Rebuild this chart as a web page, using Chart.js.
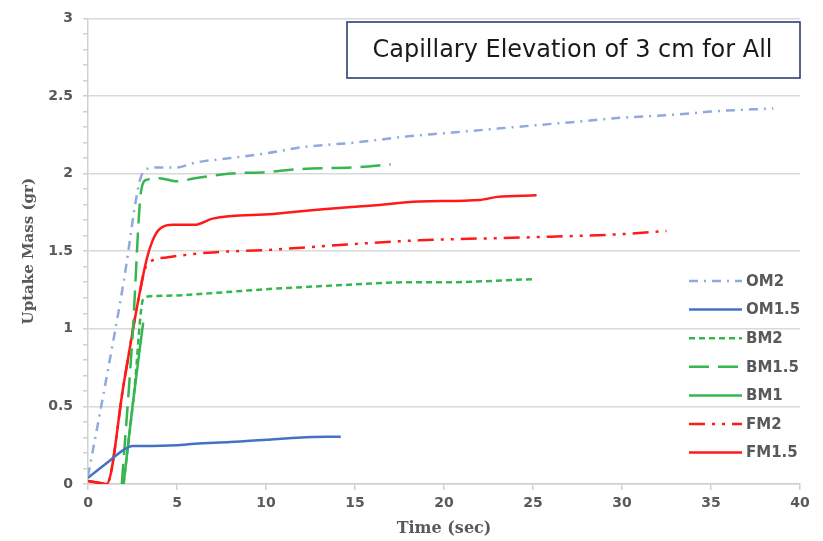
<!DOCTYPE html>
<html>
<head>
<meta charset="utf-8">
<script src="https://cdn.jsdelivr.net/npm/chart.js@4.4.1/dist/chart.umd.min.js"></script>
<style>
  html, body { margin: 0; padding: 0; background: #ffffff; }
  #c { display: block; }
</style>
</head>
<body>
<canvas id="c" width="823" height="541"></canvas>
<script>
// ---- data ----
const seriesNames = ['OM2', 'OM1.5', 'BM2', 'BM1.5', 'BM1', 'FM2', 'FM1.5'];

const om2Time  = [0, 1, 2, 2.9, 3.3, 4, 5, 6, 8, 10, 12, 15, 18, 20, 23, 25, 28, 30, 33, 35, 38.5];
const om2Mass  = [0.05, 0.66, 1.3, 1.95, 2.03, 2.04, 2.04, 2.07, 2.1, 2.13, 2.17, 2.2, 2.24, 2.26, 2.29, 2.31, 2.34, 2.36, 2.38, 2.40, 2.42];

const om15Time = [0, 1, 2, 2.5, 3, 5, 6, 8, 10, 12, 14.2];
const om15Mass = [0.04, 0.13, 0.22, 0.245, 0.245, 0.25, 0.26, 0.27, 0.285, 0.30, 0.305];

const bm2Time  = [2.0, 2.6, 3.1, 3.5, 5, 7, 10, 14, 18, 20, 25];
const bm2Mass  = [0, 0.6, 1.19, 1.21, 1.215, 1.23, 1.255, 1.28, 1.30, 1.30, 1.32];

const bm15Time = [1.9, 2.5, 3.0, 3.3, 4, 5, 6, 8, 10, 12, 15, 17];
const bm15Mass = [0, 0.95, 1.9, 1.96, 1.97, 1.95, 1.97, 2.0, 2.01, 2.03, 2.04, 2.06];

const bm1Time  = [2.0, 2.5, 3.1];
const bm1Mass  = [0, 0.5, 1.04];

const fm2Time  = [0, 0.5, 1.05, 2, 2.8, 3.3, 4.4, 6.7, 10.4, 14.1, 18.6, 25, 30, 32.5];
const fm2Mass  = [0.02, 0.01, 0.0, 0.64, 1.17, 1.41, 1.46, 1.49, 1.51, 1.54, 1.57, 1.59, 1.61, 1.63];

const fm15Time = [0, 0.5, 1.05, 2, 2.8, 3.3, 3.6, 4.0, 4.8, 6, 7, 10.4, 13.2, 16, 18.6, 22, 23, 25.2];
const fm15Mass = [0.02, 0.01, 0.0, 0.64, 1.17, 1.45, 1.56, 1.64, 1.67, 1.67, 1.71, 1.74, 1.77, 1.795, 1.82, 1.83, 1.85, 1.86];

const xTicks = [0, 5, 10, 15, 20, 25, 30, 35, 40];
const yTicks = [0, 0.5, 1, 1.5, 2, 2.5, 3];

const chartTitle = 'Capillary Elevation of 3 cm for All';
const xTitle = 'Time (sec)';
const yTitle = 'Uptake Mass (gr)';

// ---- build ----
function pts(t, m) { return t.map((v, i) => ({ x: v, y: m[i] })); }
const BLUE_L = '#8FAADC', BLUE = '#4472C4', GREEN = '#35B64F', RED = '#FF1A1A';

const seriesData = [
  pts(om2Time, om2Mass), pts(om15Time, om15Mass),
  pts(bm2Time, bm2Mass), pts(bm15Time, bm15Mass), pts(bm1Time, bm1Mass),
  pts(fm2Time, fm2Mass), pts(fm15Time, fm15Mass)
];
const styles = [
  { c: BLUE_L, d: [9, 6, 2, 6] },
  { c: BLUE,   d: [] },
  { c: GREEN,  d: [6, 4] },
  { c: GREEN,  d: [20, 9] },
  { c: GREEN,  d: [] },
  { c: RED,    d: [16, 7, 3, 7, 3, 7] },
  { c: RED,    d: [] }
];

const datasets = seriesNames.map((n, i) => ({
  label: n,
  data: seriesData[i],
  borderColor: styles[i].c,
  backgroundColor: styles[i].c,
  borderDash: styles[i].d,
  borderWidth: 2.5,
  pointRadius: 0,
  fill: false,
  cubicInterpolationMode: 'monotone'
}));

const isMajor = v => Math.abs(v * 2 - Math.round(v * 2)) < 1e-6;

const legendPlugin = {
  id: 'insideLegend',
  afterDraw(chart) {
    const ctx = chart.ctx;
    ctx.save();
    const x0 = 689, x1 = 742, tx = 746, y0 = 281, dy = 28.6;
    chart.data.datasets.forEach((ds, i) => {
      const y = y0 + i * dy;
      ctx.beginPath();
      ctx.setLineDash(ds.borderDash || []);
      ctx.strokeStyle = ds.borderColor;
      ctx.lineWidth = 2.5;
      ctx.moveTo(x0, y); ctx.lineTo(x1, y);
      ctx.stroke();
      ctx.setLineDash([]);
      ctx.fillStyle = '#595959';
      ctx.font = 'bold 15px "DejaVu Sans"';
      ctx.textBaseline = 'middle';
      ctx.textAlign = 'left';
      ctx.fillText(ds.label, tx, y + 1);
    });
    ctx.restore();
  }
};

const titleBoxPlugin = {
  id: 'titleBox',
  afterDraw(chart) {
    const ctx = chart.ctx;
    ctx.save();
    const L = 347, T = 22, R = 800, B = 78;
    ctx.fillStyle = '#ffffff';
    ctx.fillRect(L, T, R - L, B - T);
    ctx.strokeStyle = '#2F3F70';
    ctx.lineWidth = 1.6;
    ctx.strokeRect(L, T, R - L, B - T);
    let size = 19;
    ctx.font = size + 'px "DejaVu Sans"';
    const w = ctx.measureText(chartTitle).width;
    size = size * 400 / w;
    ctx.font = size.toFixed(2) + 'px "DejaVu Sans"';
    ctx.fillStyle = '#1A1A1A';
    ctx.textAlign = 'center';
    ctx.textBaseline = 'middle';
    ctx.fillText(chartTitle, (L + R) / 2 - 1, (T + B) / 2 + 1);
    ctx.restore();
  }
};

new Chart(document.getElementById('c'), {
  type: 'line',
  data: { datasets },
  options: {
    responsive: false,
    animation: false,
    events: [],
    layout: { padding: { left: 0, right: 23, top: 12, bottom: 0 } },
    plugins: { legend: { display: false }, tooltip: { enabled: false }, title: { display: false } },
    scales: {
      x: {
        type: 'linear', min: 0, max: 40,
        afterBuildTicks: s => { s.ticks = xTicks.map(v => ({ value: v })); },
        afterFit: s => { s.height = 57; },
        grid: { drawOnChartArea: false, tickLength: 6, tickColor: '#D0D0D0', lineWidth: 1.5 },
        border: { color: '#D0D0D0', width: 1.5 },
        ticks: { color: '#595959', font: { family: 'DejaVu Sans', size: 14, weight: 'bold' }, padding: 5, maxRotation: 0 },
        title: { display: true, text: xTitle, color: '#595959', font: { family: 'DejaVu Serif', size: 16, weight: 'bold' }, padding: { top: 0, bottom: 3 } }
      },
      y: {
        type: 'linear', min: 0, max: 3,
        afterBuildTicks: s => {
          const arr = [];
          for (let k = 0; k <= 30; k++) arr.push({ value: k / 10 });
          s.ticks = arr;
        },
        afterFit: s => { s.width = 88; },
        grid: {
          color: c => (c.tick && isMajor(c.tick.value)) ? '#D9D9D9' : 'rgba(0,0,0,0)',
          tickColor: '#D0D0D0', tickLength: 5, lineWidth: 1.5
        },
        border: { color: '#D0D0D0', width: 1.5 },
        ticks: {
          autoSkip: false, padding: 10, color: '#595959',
          font: { family: 'DejaVu Sans', size: 14, weight: 'bold' },
          callback: v => isMajor(v) && yTicks.includes(Math.round(v * 10) / 10) ? String(Math.round(v * 10) / 10) : ''
        },
        title: { display: true, text: yTitle, color: '#595959', font: { family: 'DejaVu Serif', size: 15, weight: 'bold' }, padding: { top: 20, bottom: 0 } }
      }
    }
  },
  plugins: [legendPlugin, titleBoxPlugin]
});
</script>
</body>
</html>
